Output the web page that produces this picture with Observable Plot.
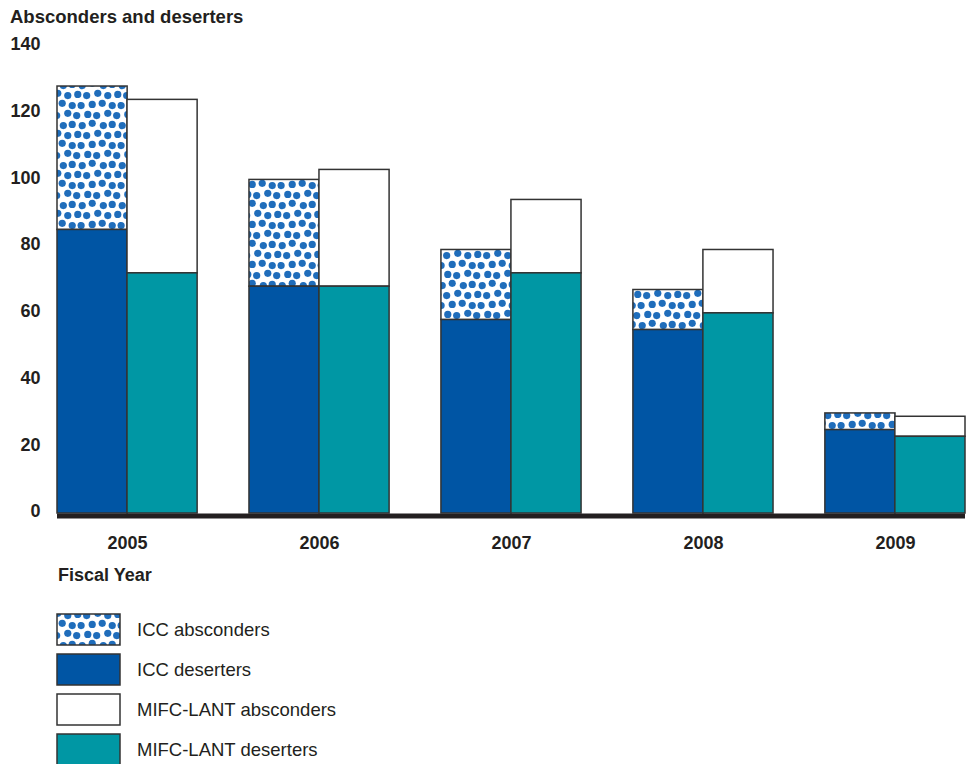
<!DOCTYPE html>
<html>
<head>
<meta charset="utf-8">
<script src="https://cdn.jsdelivr.net/npm/d3@7"></script>
<script src="https://cdn.jsdelivr.net/npm/@observablehq/plot@0.6"></script>
<style>
  html, body { margin: 0; padding: 0; background: #fff; overflow: hidden; }
  #wrap { position: relative; width: 970px; height: 764px; }
  #chart { position: absolute; left: 0; top: 0; }
  #overlay { position: absolute; left: 0; top: 0; pointer-events: none; }
  text { font-family: "Liberation Sans", Arial, Helvetica, sans-serif; }
</style>
</head>
<body>
<svg width="0" height="0" style="position:absolute">
  <defs>
    <pattern id="dots" patternUnits="userSpaceOnUse" width="40" height="40">
      <rect width="40" height="40" fill="#fff"></rect>
      <g id="dotgroup"></g>
    </pattern>
  </defs>
</svg>
<div id="wrap">
  <div id="chart"></div>
  <svg id="overlay" width="970" height="764"></svg>
</div>
<script>
// ---- data ----
const years = ["2005", "2006", "2007", "2008", "2009"];
const iccDeserters   = [85, 68, 58, 55, 25];
const iccAbsconders  = [43, 32, 21, 12, 5];
const mifcDeserters  = [72, 68, 72, 60, 23];
const mifcAbsconders = [52, 35, 22, 19, 6];
const yTicks = [0, 20, 40, 60, 80, 100, 120, 140];
const legendLabels = ["ICC absconders", "ICC deserters", "MIFC-LANT absconders", "MIFC-LANT deserters"];

const rows = years.map((year, i) => ({
  year,
  iccD: iccDeserters[i],
  iccA: iccAbsconders[i],
  mifcD: mifcDeserters[i],
  mifcA: mifcAbsconders[i]
}));

// ---- dot pattern (texture only) ----
const dotTile = [[2,5],[11,3],[21,5],[29,4],[6,14],[16,12],[25,14],[34,13],
                 [1,23],[11,22],[20,21],[29,23],[7,31],[15,32],[25,30],[33,32]];
const TILE = 40, K = TILE / 36;
const dg = d3.select("#dotgroup");
for (const [cx, cy] of dotTile) {
  for (const ox of [-TILE, 0, TILE]) for (const oy of [-TILE, 0, TILE]) {
    dg.append("circle").attr("cx", cx * K + ox).attr("cy", cy * K + oy).attr("r", 3.6).attr("fill", "#1f6dbb");
  }
}

const COL_ICC = "#0055a4";
const COL_MIFC = "#0097a4";
const STROKE = "#333";
const INK = "#231f20";

const barStyle = {stroke: STROKE, strokeWidth: 1.5};

const chart = Plot.plot({
  width: 970,
  height: 600,
  marginTop: 46,
  marginBottom: 87,
  marginLeft: 57,
  marginRight: 5,
  x: {domain: years, paddingInner: 0.27, paddingOuter: 0, round: false},
  y: {domain: [0, 140]},
  style: {fontFamily: "'Liberation Sans', Arial, Helvetica, sans-serif", fontSize: "18px", fontWeight: "bold", color: INK, background: "white"},
  marks: [
    Plot.barY(rows, {x: "year", y1: "iccD", y2: d => d.iccD + d.iccA, fill: "url(#dots)", insetRight: 70, ...barStyle}),
    Plot.barY(rows, {x: "year", y1: d => 0, y2: "iccD", fill: COL_ICC, insetRight: 70, ...barStyle}),
    Plot.barY(rows, {x: "year", y1: "mifcD", y2: d => d.mifcD + d.mifcA, fill: "white", insetLeft: 70, ...barStyle}),
    Plot.barY(rows, {x: "year", y1: d => 0, y2: "mifcD", fill: COL_MIFC, insetLeft: 70, ...barStyle}),
    Plot.ruleY([0], {stroke: INK, strokeWidth: 5, dy: 2.5}),
    Plot.axisY({ticks: yTicks, tickSize: 0, tickPadding: 17, label: null, dy: -2}),
    Plot.axisX({tickSize: 0, tickPadding: 23, label: null})
  ]
});
document.getElementById("chart").appendChild(chart);

// ---- titles and legend ----
const ov = d3.select("#overlay");
ov.append("text").attr("x", 10).attr("y", 23).attr("font-size", 18.5).attr("font-weight", "bold").attr("fill", INK)
  .text("Absconders and deserters");
ov.append("text").attr("x", 58).attr("y", 581).attr("font-size", 18).attr("font-weight", "bold").attr("fill", INK)
  .text("Fiscal Year");

const legendFills = ["url(#dots)", COL_ICC, "white", COL_MIFC];
legendLabels.forEach((lab, i) => {
  const y0 = 614 + i * 40;
  ov.append("rect").attr("x", 57).attr("y", y0).attr("width", 63).attr("height", 31)
    .attr("fill", legendFills[i]).attr("stroke", STROKE).attr("stroke-width", 1.5);
  ov.append("text").attr("x", 137).attr("y", y0 + 21.5).attr("font-size", 18.5).attr("fill", INK).text(lab);
});
</script>
</body>
</html>
